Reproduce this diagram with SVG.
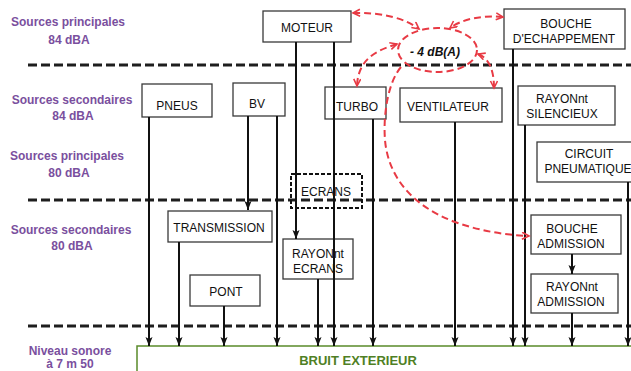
<svg xmlns="http://www.w3.org/2000/svg" width="631" height="371" viewBox="0 0 631 371">
<defs>
<style>
.lbl{font-family:"Liberation Sans",Arial,sans-serif;font-size:12px;font-weight:bold;fill:#7a4f9e;text-anchor:middle}
.box{fill:none;stroke:#3a3a3a;stroke-width:1.3}
.t{font-family:"Liberation Sans",Arial,sans-serif;font-size:12px;fill:#111;text-anchor:middle}
.dash{stroke:#1e1e1e;stroke-width:3;stroke-dasharray:9 4;fill:none}
.ln{stroke:#111;stroke-width:2;fill:none;marker-end:url(#ah)}
.red{stroke:#e83a44;stroke-width:2;stroke-dasharray:7 4;fill:none}
</style>
<marker id="ah" markerUnits="userSpaceOnUse" markerWidth="10" markerHeight="8" refX="9" refY="3.5" orient="auto">
<path d="M0,0 L9,3.5 L0,7 L2,3.5 z" fill="#111"/>
</marker>
<marker id="ra" markerUnits="userSpaceOnUse" markerWidth="10" markerHeight="10" refX="8" refY="4" orient="auto-start-reverse">
<path d="M1,0.5 L8,4 L1,7.5" fill="none" stroke="#e83a44" stroke-width="1.6"/>
</marker>
</defs>
<rect width="631" height="371" fill="#fff"/>

<g id="levels">
<text class="lbl" x="68" y="26">Sources principales</text>
<text class="lbl" x="69" y="44">84 dBA</text>
<text class="lbl" x="72" y="104">Sources secondaires</text>
<text class="lbl" x="73" y="120">84 dBA</text>
<text class="lbl" x="67" y="160">Sources principales</text>
<text class="lbl" x="69" y="177">80 dBA</text>
<text class="lbl" x="71" y="234">Sources secondaires</text>
<text class="lbl" x="72" y="250">80 dBA</text>
<text class="lbl" x="70" y="355">Niveau sonore</text>
<text class="lbl" x="70" y="368">à 7 m 50</text>
</g>

<g id="separators">
<line class="dash" x1="28" y1="65" x2="631" y2="65"/>
<line class="dash" x1="28" y1="200" x2="631" y2="200"/>
<line class="dash" x1="28" y1="326" x2="631" y2="326"/>
</g>

<g id="moteur"><rect class="box" x="263" y="11" width="88" height="31"/><text class="t" x="307" y="32">MOTEUR</text></g>
<g id="bouche-echappement"><rect class="box" x="504" y="9" width="121" height="40"/><text class="t" x="566" y="28">BOUCHE</text><text class="t" x="564" y="43">D'ECHAPPEMENT</text></g>
<g id="pneus"><rect class="box" x="142" y="84" width="70" height="33"/><text class="t" x="177" y="110">PNEUS</text></g>
<g id="bv"><rect class="box" x="233" y="83" width="52" height="33"/><text class="t" x="257" y="108">BV</text></g>
<g id="turbo"><rect class="box" x="325" y="87" width="61" height="32"/><text class="t" x="357" y="111">TURBO</text></g>
<g id="ventilateur"><rect class="box" x="400" y="88" width="102" height="34"/><text class="t" x="448" y="111">VENTILATEUR</text></g>
<g id="rayonnt-silencieux"><rect class="box" x="518" y="86" width="97" height="39"/><text class="t" x="562" y="103">RAYONnt</text><text class="t" x="562" y="118">SILENCIEUX</text></g>
<g id="circuit-pneumatique"><rect class="box" x="537" y="142" width="104" height="40"/><text class="t" x="589" y="158">CIRCUIT</text><text class="t" x="588" y="173">PNEUMATIQUE</text></g>
<g id="ecrans"><rect x="291" y="174" width="71" height="34" fill="none" stroke="#111" stroke-width="2" stroke-dasharray="4 2"/><text class="t" x="326" y="196">ECRANS</text></g>
<g id="transmission"><rect class="box" x="168" y="211" width="104" height="31"/><text class="t" x="219" y="232">TRANSMISSION</text></g>
<g id="rayonnt-ecrans"><rect class="box" x="283" y="239" width="70" height="40"/><text class="t" x="318" y="258">RAYONnt</text><text class="t" x="318" y="273">ECRANS</text></g>
<g id="pont"><rect class="box" x="190" y="275" width="70" height="31"/><text class="t" x="226" y="296">PONT</text></g>
<g id="bouche-admission"><rect class="box" x="531" y="215" width="90" height="39"/><text class="t" x="572" y="233">BOUCHE</text><text class="t" x="571" y="248">ADMISSION</text></g>
<g id="rayonnt-admission"><rect class="box" x="531" y="274" width="87" height="39"/><text class="t" x="572" y="291">RAYONnt</text><text class="t" x="571" y="306">ADMISSION</text></g>
<g id="bruit-exterieur"><rect x="137" y="346" width="510" height="40" fill="none" stroke="#5a8a2a" stroke-width="1.5"/><text x="358" y="365" font-family="Liberation Sans, Arial, sans-serif" font-size="13" font-weight="bold" fill="#4f7f24" text-anchor="middle">BRUIT EXTERIEUR</text></g>

<g id="attenuation"><ellipse class="red" cx="437.5" cy="50" rx="39.5" ry="22"/><text x="435" y="56" font-family="Liberation Sans, Arial, sans-serif" font-size="12" font-weight="bold" font-style="italic" fill="#111" text-anchor="middle">- 4 dB(A)</text></g>

<g id="connectors">
<line class="ln" x1="149" y1="117" x2="149" y2="346"/>
<line class="ln" x1="179" y1="242" x2="179" y2="346"/>
<line class="ln" x1="224" y1="306" x2="224" y2="346"/>
<line class="ln" x1="248" y1="116" x2="248" y2="210"/>
<line class="ln" x1="277" y1="116" x2="277" y2="346"/>
<line class="ln" x1="296" y1="42" x2="296" y2="239"/>
<line class="ln" x1="334" y1="42" x2="334" y2="346"/>
<line class="ln" x1="318" y1="279" x2="318" y2="346"/>
<line class="ln" x1="373" y1="119" x2="373" y2="346"/>
<line class="ln" x1="455" y1="122" x2="455" y2="346"/>
<line class="ln" x1="513" y1="49" x2="513" y2="346"/>
<line class="ln" x1="525" y1="125" x2="525" y2="346"/>
<line class="ln" x1="572" y1="254" x2="572" y2="274"/>
<line class="ln" x1="572" y1="313" x2="572" y2="346"/>
<line class="ln" x1="628" y1="182" x2="628" y2="346"/>
<path class="red" marker-start="url(#ra)" marker-end="url(#ra)" d="M353,13 C380,12 405,18 419,29"/>
<path class="red" marker-start="url(#ra)" marker-end="url(#ra)" d="M503,17 C482,15 462,19 450,28"/>
<path class="red" marker-start="url(#ra)" marker-end="url(#ra)" d="M397,44 C378,50 358,58 357,86"/>
<path class="red" marker-start="url(#ra)" marker-end="url(#ra)" d="M478,54 C489,58 494,70 494,88"/>
<path class="red" marker-end="url(#ra)" d="M401,67 C388,82 383,115 385,140 C388,175 410,205 455,222 C480,231 505,235 529,236"/>
</g>
</svg>
